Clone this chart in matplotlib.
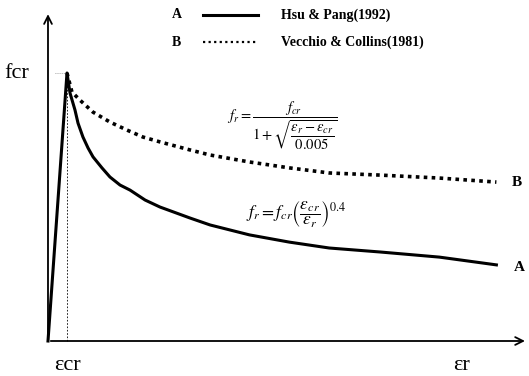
import matplotlib.pyplot as plt

#%% data (x = eps_r / eps_cr, y = f_r / f_cr)
a_x = [0, 1.0, 1.16, 1.42, 1.58, 1.84, 2.11, 2.37, 2.84, 3.26, 3.79, 4.32, 5.11, 5.89,
       7.47, 8.53, 10.6, 12.7, 14.8, 17.5, 20.6, 23.6]
a_y = [0, 1.0, 0.925, 0.862, 0.813, 0.761, 0.720, 0.687, 0.646, 0.612, 0.582, 0.563, 0.526, 0.500,
       0.459, 0.433, 0.396, 0.369, 0.347, 0.332, 0.313, 0.284]

b_x = [1.0, 1.26, 1.68, 2.37, 3.26, 4.16, 5.0, 5.89, 7.47, 8.53, 10.6, 12.7, 14.8, 17.5, 20.6, 23.6]
b_y = [1.0, 0.929, 0.899, 0.854, 0.817, 0.787, 0.761, 0.743, 0.713, 0.694, 0.668, 0.646, 0.627, 0.619, 0.608, 0.593]

eps_cr = 1.0
f_cr = 1.0

labels = ['Hsu & Pang(1992)', 'Vecchio & Collins(1981)']

#%% plot
plt.rcParams['font.family'] = ['Liberation Serif', 'DejaVu Serif']
plt.rcParams['mathtext.fontset'] = 'stix'

fig = plt.figure(figsize=(5.29, 3.76), dpi=100)
ax = fig.add_axes([0, 0, 1, 1])
ax.set_xlim(-2.526, 25.316)
ax.set_ylim(-0.1306, 1.2724)
ax.axis('off')

# axes with arrows
ax.annotate('', xy=(0, 1.23), xytext=(0, 0),
            arrowprops=dict(arrowstyle='->', lw=1.3, color='k', mutation_scale=14))
ax.annotate('', xy=(25.25, 0), xytext=(0, 0),
            arrowprops=dict(arrowstyle='->', lw=1.3, color='k', mutation_scale=14))

# guide lines to the peak
ax.plot([eps_cr, eps_cr], [0, f_cr], color='k', lw=0.6, ls=(0, (2, 2)))
ax.plot([0.35, eps_cr], [f_cr, f_cr], color='gray', lw=0.6, ls=(0, (1, 1.5)))

# curves
ax.plot(a_x, a_y, color='k', lw=2.2, solid_joinstyle='round')
ax.plot(b_x, b_y, color='k', lw=2.6, ls=(0, (1, 1.2)), dash_capstyle='butt')

# end labels
ax.text(24.5, a_y[-1] - 0.01, 'A', fontsize=11, fontweight='bold', va='center')
ax.text(24.4, b_y[-1], 'B', fontsize=11, fontweight='bold', va='center')

# axis labels
ax.text(-2.3, f_cr, 'fcr', fontsize=16, va='center')
ax.text(0.3, -0.09, 'εcr', fontsize=16, va='center')
ax.text(21.3, -0.09, 'εr', fontsize=16, va='center')

# formulas
ax.text(9.4, 0.805,
        r'$f_r = \dfrac{f_{cr}}{1+\sqrt{\dfrac{\varepsilon_r-\varepsilon_{cr}}{0.005}}}$',
        fontsize=10.5, va='center')
ax.text(10.4, 0.47,
        r'$f_r = f_{cr}\left(\dfrac{\varepsilon_{cr}}{\varepsilon_r}\right)^{0.4}$',
        fontsize=12.5, va='center')

# legend
fig.text(172 / 529, 1 - 15 / 376, 'A', fontsize=10, fontweight='bold', va='center')
fig.text(172 / 529, 1 - 42 / 376, 'B', fontsize=10, fontweight='bold', va='center')
fig.add_artist(plt.Line2D([203 / 529, 258 / 529], [1 - 15 / 376, 1 - 15 / 376],
                          color='k', lw=2.2))
fig.add_artist(plt.Line2D([203 / 529, 258 / 529], [1 - 42 / 376, 1 - 42 / 376],
                          color='k', lw=1.6, ls=(0, (1, 1.5))))
fig.text(281 / 529, 1 - 15 / 376, labels[0], fontsize=10, fontweight='bold', va='center')
fig.text(281 / 529, 1 - 42 / 376, labels[1], fontsize=10, fontweight='bold', va='center')

fig.savefig('out.png', dpi=100)
